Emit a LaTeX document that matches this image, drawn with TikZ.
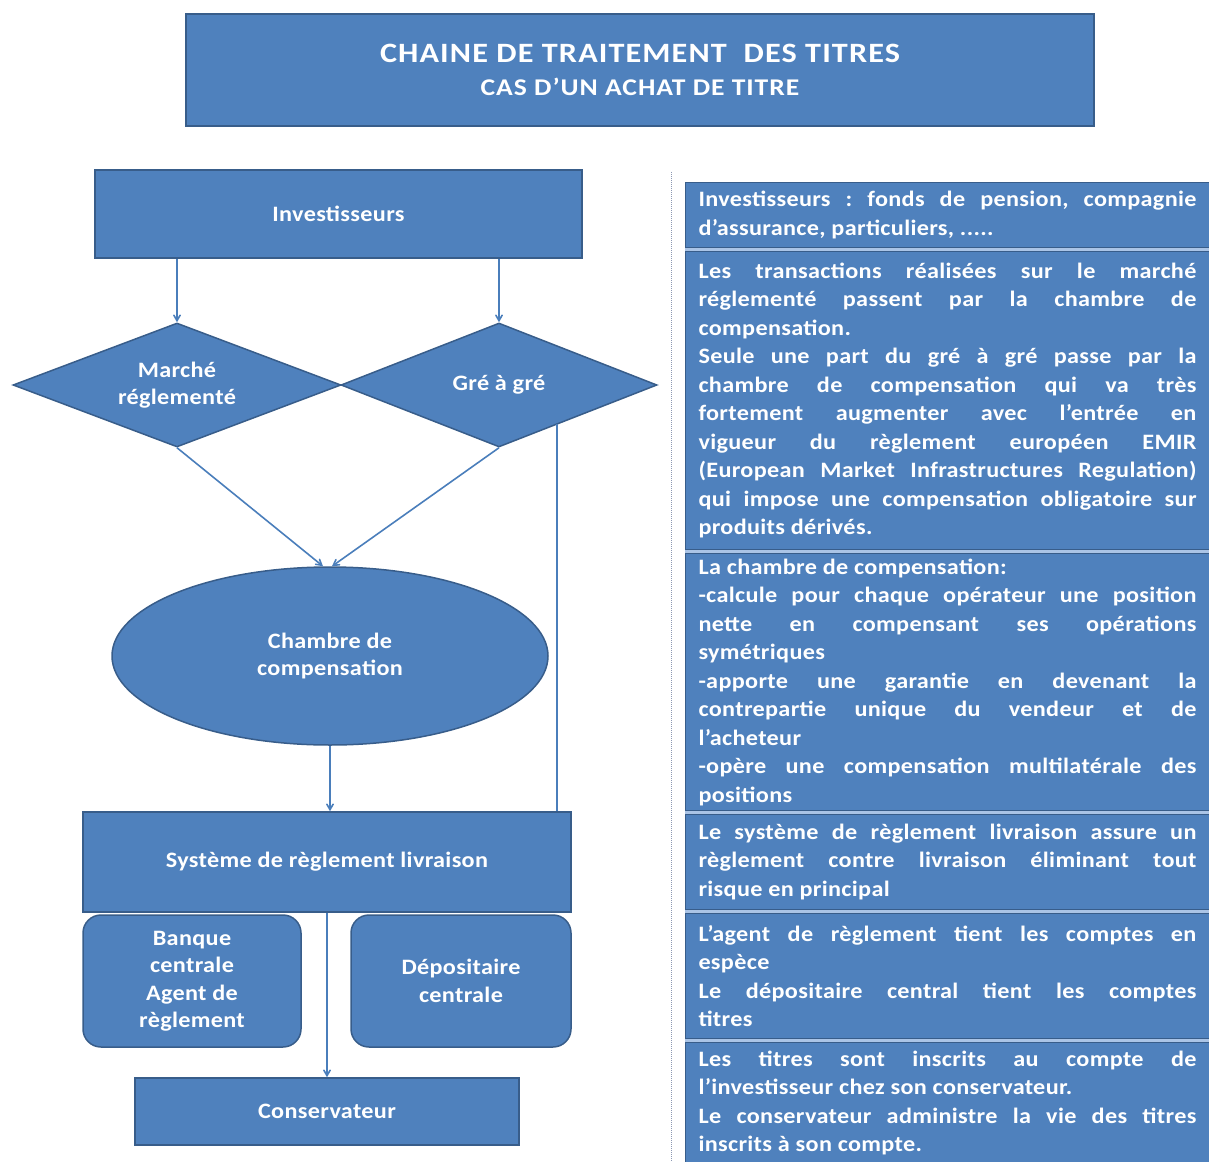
\documentclass[tikz,border=0pt]{standalone}
\usepackage{fontspec}
\setmainfont{Carlito}[FakeStretch=1.1, LetterSpace=1.5]
\newfontfamily\titrefont{Carlito}[FakeStretch=1.15, LetterSpace=4]
\usetikzlibrary{arrows,shapes.geometric}

\definecolor{boxblue}{RGB}{79,129,189}
\definecolor{boxline}{RGB}{56,93,138}
\definecolor{arrowblue}{RGB}{74,126,187}
\definecolor{panelsep}{RGB}{170,196,230}
\definecolor{dotline}{RGB}{140,152,178}

\begin{document}
\frenchspacing
\begin{tikzpicture}[x=1pt,y=-1pt,
  bloc/.style={draw=boxline, line width=1.5pt, fill=boxblue, text=white,
    font=\fontsize{22}{27.5}\selectfont\bfseries, align=center, inner sep=0pt},
  infobox/.style={draw=boxline, line width=1pt, fill=boxblue, text=white,
    anchor=north west, text width=498pt, inner xsep=13pt, inner ysep=0pt,
    align=justify, font=\fontsize{22}{28.5}\selectfont\bfseries},
  fleche/.style={->, >=angle 60, draw=arrowblue, line width=1.6pt},
  ligne/.style={draw=arrowblue, line width=1.6pt}]
\useasboundingbox (0,0) rectangle (1209,1161);

% titre
\node[bloc, minimum width=908pt, minimum height=112pt] (titre) at (640,70)
  {\titrefont\bfseries\fontsize{28}{34}\selectfont CHAINE DE TRAITEMENT \ DES TITRES\\[6pt]
   \titrefont\bfseries\fontsize{24}{34}\selectfont CAS D’UN ACHAT DE TITRE};

% chaine
\node[bloc, minimum width=487pt, minimum height=88pt] (invest) at (338.5,214) {Investisseurs};
\node[bloc, diamond, aspect=2.6, minimum width=328pt, minimum height=124pt] (marche) at (177,385) {Marché\\réglementé};
\node[bloc, diamond, aspect=2.6, minimum width=316pt, minimum height=124pt] (gre) at (499,385) {Gré à gré};
\node[bloc, ellipse, minimum width=436pt, minimum height=178pt] (chambre) at (330,656) {Chambre de\\compensation};
\node[bloc, minimum width=488pt, minimum height=100pt] (systeme) at (327,862) {Système de règlement livraison};
\node[bloc, rounded corners=18pt, minimum width=218pt, minimum height=132pt] (banque) at (192,981)
  {Banque\\centrale\\Agent de\\règlement};
\node[bloc, rounded corners=18pt, minimum width=220pt, minimum height=132pt] (depo) at (461,981)
  {Dépositaire\\centrale};
\node[bloc, minimum width=384pt, minimum height=67pt] (conserv) at (327,1111.5) {Conservateur};

\draw[fleche] (invest.south -| marche.north) -- (marche.north);
\draw[fleche] (invest.south -| gre.north) -- (gre.north);
\draw[fleche] (marche.south) -- ([xshift=-7pt]chambre.north);
\draw[fleche] (gre.south) -- ([xshift=2pt]chambre.north);
\draw[fleche] (chambre.south) -- (systeme.north -| chambre.south);
\coordinate (grepied) at (557,424);
\draw[ligne] (grepied) -- (grepied |- systeme.north);
\draw[fleche] (systeme.south -| conserv.north) -- (conserv.north);

% separation
\draw[dotline, line width=1pt, densely dotted] (671,172) -- (671,1161);

% commentaires
\fill[panelsep] (685,182) rectangle (1209,1161);
\node[infobox, minimum height=65pt] (info1) at (685,182)
  {Investisseurs : fonds de pension, compagnie\linebreak d’assurance, particuliers, .....};
\node[infobox, minimum height=298pt] (info2) at (685,251)
  {Les transactions réalisées sur le marché\linebreak réglementé passent par la chambre de\linebreak compensation.\\
   Seule une part du gré à gré passe par la\linebreak chambre de compensation qui va très\linebreak
   fortement augmenter avec l’entrée en\linebreak vigueur du règlement européen EMIR\linebreak
   (European Market Infrastructures Regulation)\linebreak qui impose une compensation obligatoire sur\linebreak
   produits dérivés.};
\node[infobox, minimum height=257pt] (info3) at (685,553)
  {La chambre de compensation:\\
   -calcule pour chaque opérateur une position\linebreak nette en compensant ses opérations\linebreak symétriques\\
   -apporte une garantie en devenant la\linebreak contrepartie unique du vendeur et de\linebreak l’acheteur\\
   -opère une compensation multilatérale des\linebreak positions};
\node[infobox, minimum height=95pt] (info4) at (685,814)
  {Le système de règlement livraison assure un\linebreak règlement contre livraison éliminant tout\linebreak risque en principal};
\node[infobox, minimum height=125pt] (info5) at (685,913)
  {L’agent de règlement tient les comptes en\linebreak espèce\\
   Le dépositaire central tient les comptes\linebreak titres};
\node[infobox, minimum height=121pt] (info6) at (685,1042)
  {Les titres sont inscrits au compte de\linebreak l’investisseur chez son conservateur.\\
   Le conservateur administre la vie des titres\linebreak inscrits à son compte.};
\end{tikzpicture}
\end{document}
